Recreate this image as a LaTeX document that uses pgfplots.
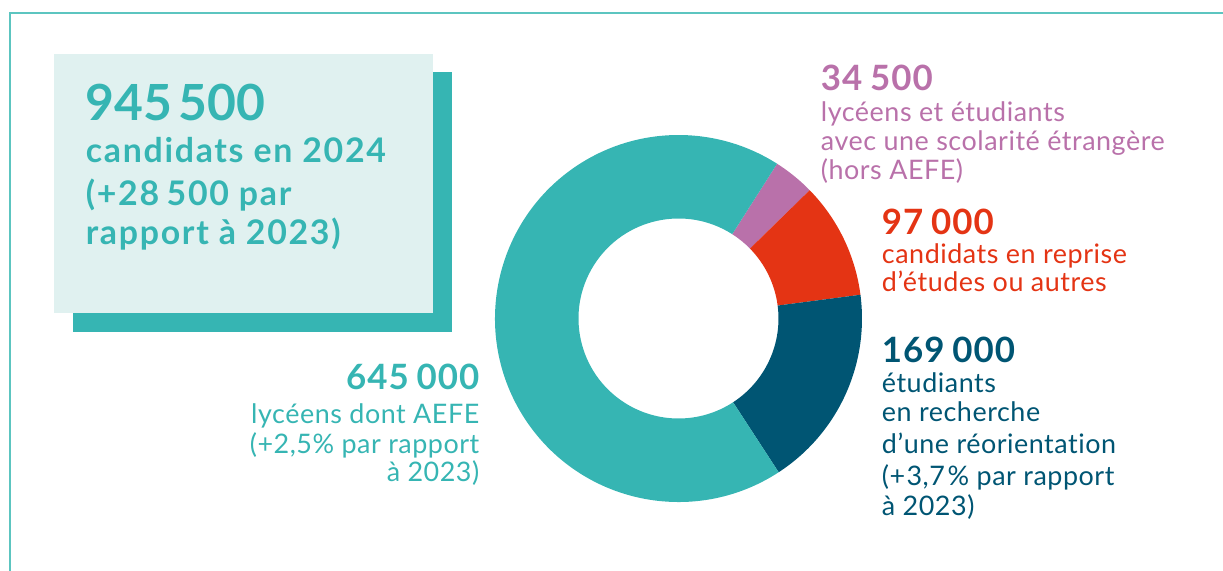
\documentclass[border=0pt]{standalone}
\usepackage{pgfplots}
\pgfplotsset{compat=1.18}
\usepackage{pgfplotstable}
\usepackage{fontspec}
\setmainfont{Lato}

\definecolor{cteal}{HTML}{36B5B3}
\definecolor{cpurple}{HTML}{B971AA}
\definecolor{cred}{HTML}{E43414}
\definecolor{cblue}{HTML}{005573}
\definecolor{cbox}{HTML}{E0F1F0}
\definecolor{cframe}{HTML}{5CC5C0}

\pgfplotstableread{
name value
etrangere 34500
reprise 97000
reorientation 169000
lyceens 645000
}\donutdata

\newcommand\sector[3]{%
  \fill[#1] (axis cs:678.5,252.5) ++(#2:183.5bp)
    arc[start angle=#2,end angle=#3,radius=183.5bp]
    -- ++(#3:-83.5bp)
    arc[start angle=#3,end angle=#2,radius=100bp] -- cycle;}

\newcommand\numfont{\fontsize{35}{35}\selectfont\bfseries\addfontfeatures{LetterSpace=3}}
\newcommand\bodyfont{\fontsize{27}{27}\selectfont\addfontfeatures{LetterSpace=2,Ligatures=NoCommon}}
\newcommand\boxfont{\fontsize{34}{34}\selectfont\bfseries\addfontfeatures{LetterSpace=5}}

\begin{document}
\begin{tikzpicture}
\pgfplotstablegetelem{0}{value}\of\donutdata \xdef\vA{\pgfplotsretval}
\pgfplotstablegetelem{1}{value}\of\donutdata \xdef\vB{\pgfplotsretval}
\pgfplotstablegetelem{2}{value}\of\donutdata \xdef\vC{\pgfplotsretval}
\pgfplotstablegetelem{3}{value}\of\donutdata \xdef\vD{\pgfplotsretval}
\begingroup
\pgfkeys{/pgf/fpu=true,/pgf/fpu/output format=fixed}
\pgfmathparse{\vA+\vB+\vC+\vD}\xdef\vT{\pgfmathresult}
\pgfmathparse{360*\vA/\vT}\xdef\angA{\pgfmathresult}
\pgfmathparse{360*\vB/\vT}\xdef\angB{\pgfmathresult}
\pgfmathparse{360*\vC/\vT}\xdef\angC{\pgfmathresult}
\endgroup
\pgfmathsetmacro\aZero{57.5}
\pgfmathsetmacro\aOne{\aZero-\angA}
\pgfmathsetmacro\aTwo{\aOne-\angB}
\pgfmathsetmacro\aThree{\aTwo-\angC}
\pgfmathsetmacro\aFour{\aZero-360}
\begin{axis}[
  at={(0,0)}, anchor=south west,
  x=1bp, y=1bp, xmin=0, xmax=1223, ymin=0, ymax=571,
  hide axis, clip=false,
]
% frame
\draw[cframe, line width=2bp] (axis cs:10.3,0) -- (axis cs:10.3,557.5) -- (axis cs:1223,557.5);
% box
\fill[cteal] (axis cs:73,239) rectangle (axis cs:451.7,499);
\fill[cbox] (axis cs:54,258) rectangle (axis cs:432.7,517);
\node[anchor=base west, inner sep=0, text=cteal, font=\fontsize{50}{50}\selectfont\bfseries] at (axis cs:85.7,450) {945\hspace{0.12em}500};
\node[anchor=base west, inner sep=0, text=cteal, font=\boxfont] at (axis cs:85.7,408.7) {candidats en 2024};
\node[anchor=base west, inner sep=0, text=cteal, font=\boxfont] at (axis cs:85.7,366) {(+\hspace{0.05em}28\hspace{0.22em}500 par};
\node[anchor=base west, inner sep=0, text=cteal, font=\boxfont] at (axis cs:85.7,327) {rapport à 2023)};
% donut
\sector{cpurple}{\aZero}{\aOne}
\sector{cred}{\aOne}{\aTwo}
\sector{cblue}{\aTwo}{\aThree}
\sector{cteal}{\aThree}{\aFour}
% purple label
\node[anchor=base west, inner sep=0, text=cpurple, font=\numfont] at (axis cs:820.7,480.3) {34\hspace{0.22em}500};
\node[anchor=base west, inner sep=0, text=cpurple, font=\bodyfont] at (axis cs:820.7,449.3) {lycéens et étudiants};
\node[anchor=base west, inner sep=0, text=cpurple, font=\bodyfont] at (axis cs:820.7,420.3) {avec une scolarité étrangère};
\node[anchor=base west, inner sep=0, text=cpurple, font=\bodyfont] at (axis cs:820.7,391.7) {(hors AEFE)};
% red label
\node[anchor=base west, inner sep=0, text=cred, font=\numfont] at (axis cs:881.7,336.7) {97\hspace{0.22em}000};
\node[anchor=base west, inner sep=0, text=cred, font=\bodyfont] at (axis cs:881.7,307.7) {candidats en reprise};
\node[anchor=base west, inner sep=0, text=cred, font=\bodyfont] at (axis cs:881.7,279.3) {d’études ou autres};
% blue label
\node[anchor=base west, inner sep=0, text=cblue, font=\numfont] at (axis cs:881.7,208.3) {169\hspace{0.22em}000};
\node[anchor=base west, inner sep=0, text=cblue, font=\bodyfont] at (axis cs:881.7,178.3) {étudiants};
\node[anchor=base west, inner sep=0, text=cblue, font=\bodyfont] at (axis cs:881.7,149.3) {en recherche};
\node[anchor=base west, inner sep=0, text=cblue, font=\bodyfont] at (axis cs:881.7,118) {d’une réorientation};
\node[anchor=base west, inner sep=0, text=cblue, font=\bodyfont] at (axis cs:881.7,86) {(+\hspace{0.05em}3,7\hspace{0.1em}\% par rapport};
\node[anchor=base west, inner sep=0, text=cblue, font=\bodyfont] at (axis cs:881.7,56) {à 2023)};
% teal label
\node[anchor=base east, inner sep=0, text=cteal, font=\numfont] at (axis cs:479.5,181.7) {645\hspace{0.22em}000};
\node[anchor=base east, inner sep=0, text=cteal, font=\bodyfont] at (axis cs:479.5,147.7) {lycéens dont AEFE};
\node[anchor=base east, inner sep=0, text=cteal, font=\bodyfont] at (axis cs:479.5,117.7) {(+2,5\% par rapport};
\node[anchor=base east, inner sep=0, text=cteal, font=\bodyfont] at (axis cs:479.5,89.3) {à 2023)};
\end{axis}
\pgfresetboundingbox
\path (0,0) rectangle (1223bp,571bp);
\end{tikzpicture}
\end{document}
